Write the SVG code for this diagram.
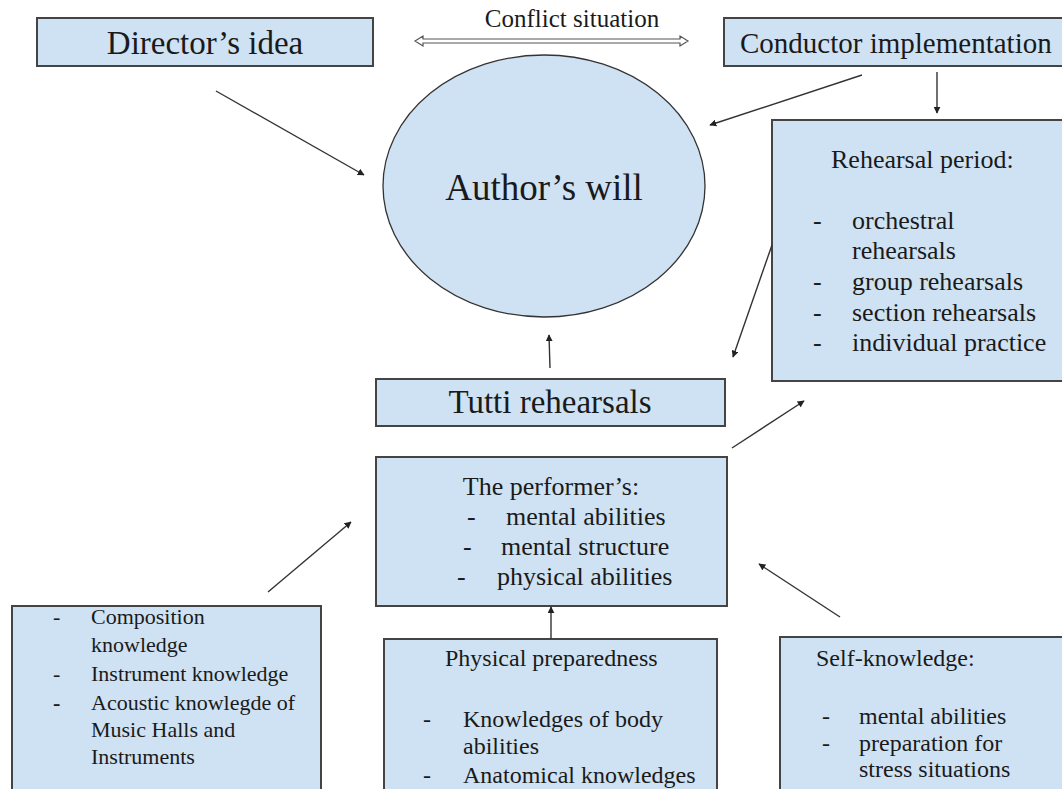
<svg xmlns="http://www.w3.org/2000/svg" width="1062" height="789" viewBox="0 0 1062 789">
<defs>
<style>
.box{fill:#cfe2f3;stroke:#444;stroke-width:2}
.ell{fill:#cfe2f3;stroke:#333;stroke-width:1.3}
.conn line{stroke:#333;stroke-width:1.4}
</style>
<marker id="ah" viewBox="0 0 10 10" refX="9" refY="5" markerWidth="7" markerHeight="7" markerUnits="userSpaceOnUse" orient="auto">
<path d="M0,0 L10,5 L0,10 z" fill="#222"/>
</marker>
</defs>
<rect width="1062" height="789" fill="#ffffff"/>
<g font-family="'Liberation Serif', Tinos, 'Times New Roman', 'DejaVu Serif', serif" fill="#1a1a1a">

<g id="conflict">
<polygon points="415,41 423,36 423,39 680,39 680,36 688,41 680,46 680,43 423,43 423,46" fill="#ffffff" stroke="#555" stroke-width="1.2"/>
<text x="572" y="27" font-size="25" text-anchor="middle">Conflict situation</text>
</g>

<g id="director">
<rect class="box" x="37" y="18" width="336" height="48"/>
<text x="205" y="54" font-size="33" text-anchor="middle">Director’s idea</text>
</g>

<g id="conductor">
<rect class="box" x="724" y="18" width="345" height="48"/>
<text x="740" y="53" font-size="29">Conductor implementation</text>
</g>

<g id="author">
<ellipse class="ell" cx="544" cy="186" rx="161" ry="131"/>
<text x="544" y="200" font-size="37" text-anchor="middle">Author’s will</text>
</g>

<g id="rehearsal">
<rect class="box" x="772" y="120" width="297" height="261"/>
<g font-size="26">
<text x="831" y="168">Rehearsal period:</text>
<text x="813" y="229">-</text><text x="852" y="229">orchestral</text>
<text x="852" y="259">rehearsals</text>
<text x="813" y="290">-</text><text x="852" y="290">group rehearsals</text>
<text x="813" y="321">-</text><text x="852" y="321">section rehearsals</text>
<text x="813" y="351">-</text><text x="852" y="351">individual practice</text>
</g>
</g>

<g id="tutti">
<rect class="box" x="376" y="379" width="349" height="47"/>
<text x="550" y="413" font-size="33" text-anchor="middle">Tutti rehearsals</text>
</g>

<g id="performer">
<rect class="box" x="376" y="457" width="351" height="149"/>
<g font-size="26">
<text x="551" y="495" text-anchor="middle">The performer’s:</text>
<text x="467" y="525">-</text><text x="506" y="525">mental abilities</text>
<text x="463" y="555">-</text><text x="501" y="555">mental structure</text>
<text x="457" y="585">-</text><text x="497" y="585">physical abilities</text>
</g>
</g>

<g id="knowledge">
<rect class="box" x="12" y="606" width="309" height="200"/>
<g font-size="22">
<text x="53" y="624">-</text><text x="91" y="624">Composition</text>
<text x="91" y="652">knowledge</text>
<text x="53" y="681">-</text><text x="91" y="681">Instrument knowledge</text>
<text x="53" y="710" font-weight="bold">-</text><text x="91" y="710">Acoustic knowlegde of</text>
<text x="91" y="737">Music Halls and</text>
<text x="91" y="764">Instruments</text>
</g>
</g>

<g id="physical">
<rect class="box" x="384" y="639" width="333" height="170"/>
<g font-size="24">
<text x="445" y="666">Physical preparedness</text>
<text x="423" y="727">-</text><text x="463" y="727">Knowledges of body</text>
<text x="463" y="754">abilities</text>
<text x="423" y="783">-</text><text x="463" y="783">Anatomical knowledges</text>
</g>
</g>

<g id="self">
<rect class="box" x="780" y="637" width="290" height="170"/>
<g font-size="24">
<text x="816" y="666">Self-knowledge:</text>
<text x="822" y="724">-</text><text x="859" y="724">mental abilities</text>
<text x="822" y="751">-</text><text x="859" y="751">preparation for</text>
<text x="859" y="777">stress situations</text>
</g>
</g>
</g>

<g id="connectors" class="conn">
<line x1="216" y1="91" x2="364" y2="175" marker-end="url(#ah)"/>
<line x1="862" y1="75" x2="710" y2="125" marker-end="url(#ah)"/>
<line x1="937" y1="72" x2="937" y2="113" marker-end="url(#ah)"/>
<line x1="772" y1="245" x2="733" y2="357" marker-end="url(#ah)"/>
<line x1="550" y1="368" x2="549" y2="335" marker-end="url(#ah)"/>
<line x1="732" y1="448" x2="804" y2="401" marker-end="url(#ah)"/>
<line x1="268" y1="592" x2="351" y2="522" marker-end="url(#ah)"/>
<line x1="551" y1="639" x2="551" y2="607" marker-end="url(#ah)"/>
<line x1="840" y1="617" x2="759" y2="564" marker-end="url(#ah)"/>
</g>
</svg>
